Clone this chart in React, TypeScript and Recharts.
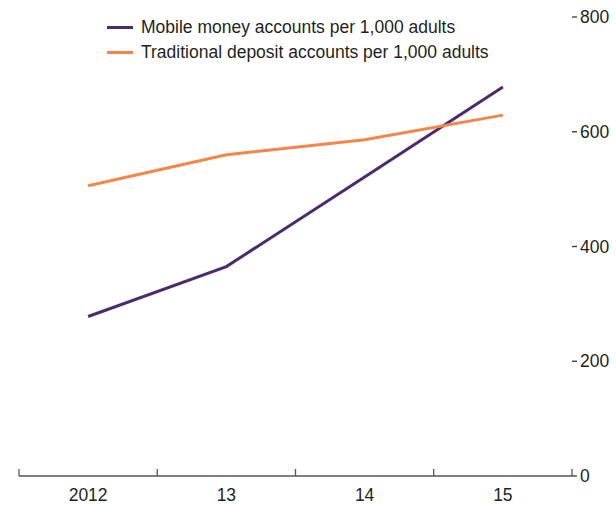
import React from "react";
import { LineChart, Line, XAxis, YAxis, Legend } from "recharts";

const years = ["2012", "13", "14", "15"];
const mobileMoney = [278, 365, 521, 678];
const traditionalDeposit = [506, 560, 586, 629];
const yTicks = [0, 200, 400, 600, 800];

const MOBILE = "#4b2a70";
const ORANGE = "#f6854a";
const FONT = "'Liberation Sans Narrow', 'Arial Narrow', 'Liberation Sans', Arial, sans-serif";
const INK = "#231f20";
const FS = 17.5;

// x runs on a number scale so tick marks can sit on the category edges
const data = years.map((year, i) => ({
  x: i + 0.5,
  year,
  mobile: mobileMoney[i],
  deposit: traditionalDeposit[i],
}));

const xTicks: number[] = [];
for (let i = 0; i <= years.length * 2; i++) xTicks.push(i / 2);

function EdgeTick(props: any) {
  const { x, y, payload } = props;
  const v = payload.value as number;
  if (Number.isInteger(v)) {
    return <line x1={x} x2={x} y1={y} y2={y - 7} stroke="#555" strokeWidth={1.3} />;
  }
  const label = years[Math.floor(v)];
  return (
    <text x={x} y={y + 25} textAnchor="middle" fill={INK} fontSize={FS} fontFamily={FONT}>
      {label}
    </text>
  );
}

function LegendBox(props: any) {
  const { payload } = props;
  return (
    <div style={{ fontFamily: FONT, fontSize: FS, color: INK, lineHeight: "25px" }}>
      {payload.map((p: any) => (
        <div key={p.value} style={{ display: "flex", alignItems: "center", whiteSpace: "nowrap" }}>
          <span style={{ display: "inline-block", width: 26, height: 3, background: p.color, marginRight: 8 }} />
          {p.value}
        </div>
      ))}
    </div>
  );
}

export default function App() {
  return (
    <div style={{ position: "absolute", top: 0, left: 0, width: 616, height: 506, background: "#fff" }}>
      <LineChart width={616} height={506} data={data} margin={{ top: 17, right: 0, bottom: 0, left: 13 }}>
        <XAxis
          dataKey="x"
          type="number"
          domain={[0, years.length]}
          ticks={xTicks}
          interval={0}
          tick={<EdgeTick />}
          tickLine={false}
          tickSize={0}
          tickMargin={0}
          axisLine={{ stroke: "#555", strokeWidth: 1.3 }}
          height={30}
        />
        <YAxis
          yAxisId="left"
          orientation="left"
          domain={[0, 800]}
          ticks={[200, 400, 600, 800]}
          tickFormatter={() => ""}
          tickSize={6}
          tickLine={{ stroke: "#333", strokeWidth: 1.3 }}
          axisLine={false}
          width={6}
        />
        <YAxis
          yAxisId="right"
          orientation="right"
          domain={[0, 800]}
          ticks={yTicks}
          tickSize={5}
          tickMargin={3}
          tickLine={{ stroke: "#333", strokeWidth: 1.3 }}
          axisLine={false}
          width={44}
          tick={{ fill: INK, fontSize: FS, fontFamily: FONT }}
        />
        <Legend
          layout="horizontal"
          verticalAlign="middle"
          align="center"
          content={<LegendBox />}
          wrapperStyle={{ top: 15, left: 107, width: "auto", height: "auto" }}
        />
        <Line
          yAxisId="right"
          type="linear"
          dataKey="mobile"
          name="Mobile money accounts per 1,000 adults"
          stroke={MOBILE}
          strokeWidth={3}
          dot={false}
          isAnimationActive={false}
        />
        <Line
          yAxisId="right"
          type="linear"
          dataKey="deposit"
          name="Traditional deposit accounts per 1,000 adults"
          stroke={ORANGE}
          strokeWidth={3}
          dot={false}
          isAnimationActive={false}
        />
      </LineChart>
    </div>
  );
}
